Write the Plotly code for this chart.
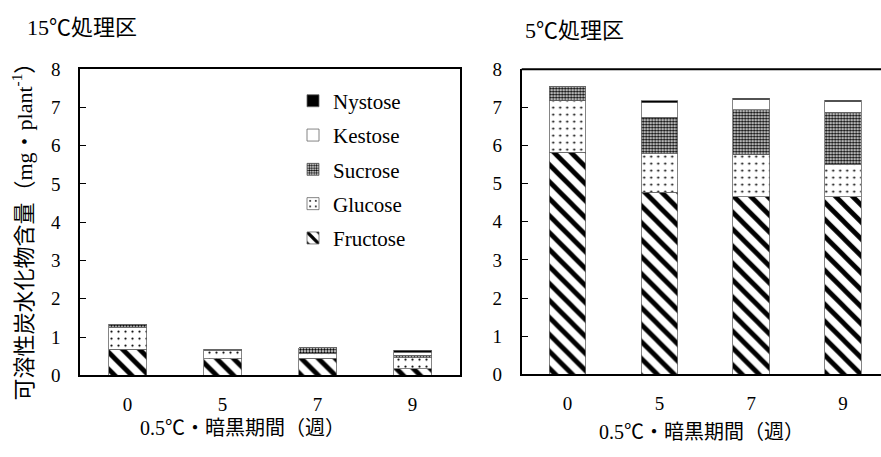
import plotly.graph_objects as go

weeks = ["0", "5", "7", "9"]
y_ticks = [0, 1, 2, 3, 4, 5, 6, 7, 8]

# 15℃処理区
fructose_15 = [0.68, 0.43, 0.45, 0.17]
glucose_15 = [0.58, 0.23, 0.13, 0.29]
sucrose_15 = [0.07, 0.02, 0.14, 0.07]
kestose_15 = [0.0, 0.0, 0.0, 0.07]
nystose_15 = [0.0, 0.0, 0.0, 0.06]

# 5℃処理区
fructose_5 = [5.82, 4.77, 4.65, 4.65]
glucose_5 = [1.35, 1.01, 1.11, 0.86]
sucrose_5 = [0.38, 0.96, 1.18, 1.36]
kestose_5 = [0.0, 0.38, 0.26, 0.28]
nystose_5 = [0.0, 0.05, 0.04, 0.04]

names = ["Fructose", "Glucose", "Sucrose", "Kestose", "Nystose"]
patterns = [
    dict(shape="\\", fgcolor="black", bgcolor="white", fgopacity=1, size=12, solidity=0.4),
    dict(shape=".", fgcolor="black", bgcolor="white", fgopacity=1, size=7, solidity=0.08),
    dict(shape=".", fgcolor="black", bgcolor="white", fgopacity=1, size=3, solidity=0.55),
    dict(shape=""),
    dict(shape=""),
]
colors = ["white", "white", "white", "white", "black"]

latin = "Liberation Serif"
cjk = "Liberation Serif, Noto Sans CJK JP, serif"
W, H = 881, 457

fig = go.Figure()
left_sets = [fructose_15, glucose_15, sucrose_15, kestose_15, nystose_15]
right_sets = [fructose_5, glucose_5, sucrose_5, kestose_5, nystose_5]
for i, nm in enumerate(names):
    fig.add_trace(go.Bar(
        x=weeks, y=left_sets[i], name=nm, width=0.4, legendgroup=nm,
        legendrank=len(names) - i,
        marker=dict(color=colors[i], pattern=patterns[i],
                    line=dict(color="#666", width=0.8)),
        xaxis="x", yaxis="y", showlegend=True))
for i, nm in enumerate(names):
    fig.add_trace(go.Bar(
        x=weeks, y=right_sets[i], name=nm, width=0.4, legendgroup=nm,
        marker=dict(color=colors[i], pattern=patterns[i],
                    line=dict(color="#666", width=0.8)),
        xaxis="x2", yaxis="y2", showlegend=False))

ytop = 1 - 62 / H
ybot = 1 - 383 / H

axis_font = dict(family=latin, size=19, color="black")

fig.update_layout(
    width=W, height=H, margin=dict(l=0, r=0, t=0, b=0),
    paper_bgcolor="white", plot_bgcolor="white",
    barmode="stack", bargap=0.6,
    font=dict(family=latin, color="black"),
    xaxis=dict(domain=[80 / W, 460 / W], type="category", range=[-0.5, 3.5],
               showline=True, linecolor="black", linewidth=1.5, mirror=True,
               ticks="", tickfont=axis_font, ticklabelstandoff=11,
               showgrid=False, zeroline=False, anchor="y"),
    yaxis=dict(domain=[ybot, ytop], range=[0, 8], tickvals=y_ticks,
               showline=True, linecolor="black", linewidth=1.5, mirror=True,
               ticks="inside", ticklen=6, tickcolor="black", tickwidth=1.2,
               tickfont=axis_font, ticklabelstandoff=14,
               showgrid=False, zeroline=False, anchor="x"),
    xaxis2=dict(domain=[521.7 / W, 1.0], type="category", range=[-0.5, 3.5 - 8 / 92],
                showline=True, linecolor="black", linewidth=2,
                ticks="", tickfont=axis_font, ticklabelstandoff=11,
                showgrid=False, zeroline=False, anchor="y2"),
    yaxis2=dict(domain=[1 - 382 / H, ytop], range=[0, 8], tickvals=y_ticks,
                showline=True, linecolor="black", linewidth=2,
                ticks="inside", ticklen=6, tickcolor="black", tickwidth=1.2,
                tickfont=axis_font, ticklabelstandoff=14,
                showgrid=False, zeroline=False, anchor="x2"),
    legend=dict(x=293 / W, y=1 - 74 / H, xanchor="left", yanchor="top",
                traceorder="grouped", tracegroupgap=4,
                font=dict(family=latin, size=21, color="black"),
                bgcolor="rgba(0,0,0,0)", itemwidth=30),
    shapes=[dict(type="line", xref="paper", yref="paper",
                 x0=521.7 / W, x1=1.0, y0=ytop, y1=ytop,
                 line=dict(color="black", width=2))],
    annotations=[
        dict(text="15℃処理区", x=25 / W, y=1 - 18 / H, xref="paper", yref="paper",
             xanchor="left", yanchor="middle", showarrow=False,
             font=dict(family=cjk, size=22, color="black")),
        dict(text="5℃処理区", x=523 / W, y=1 - 22 / H, xref="paper", yref="paper",
             xanchor="left", yanchor="middle", showarrow=False,
             font=dict(family=cjk, size=22, color="black")),
        dict(text="0.5℃・暗黒期間（週）", x=242 / W, y=1 - 438 / H, xref="paper", yref="paper",
             xanchor="center", yanchor="middle", showarrow=False,
             font=dict(family=cjk, size=20, color="black")),
        dict(text="0.5℃・暗黒期間（週）", x=701 / W, y=1 - 442 / H, xref="paper", yref="paper",
             xanchor="center", yanchor="middle", showarrow=False,
             font=dict(family=cjk, size=20, color="black")),
        dict(text="可溶性炭水化物含量（mg・plant<sup>-1</sup>）", x=22 / W, y=1 - 227 / H,
             xref="paper", yref="paper", textangle=-90,
             xanchor="center", yanchor="middle", showarrow=False,
             font=dict(family=cjk, size=22, color="black")),
    ],
)

fig.write_html("out.html")
